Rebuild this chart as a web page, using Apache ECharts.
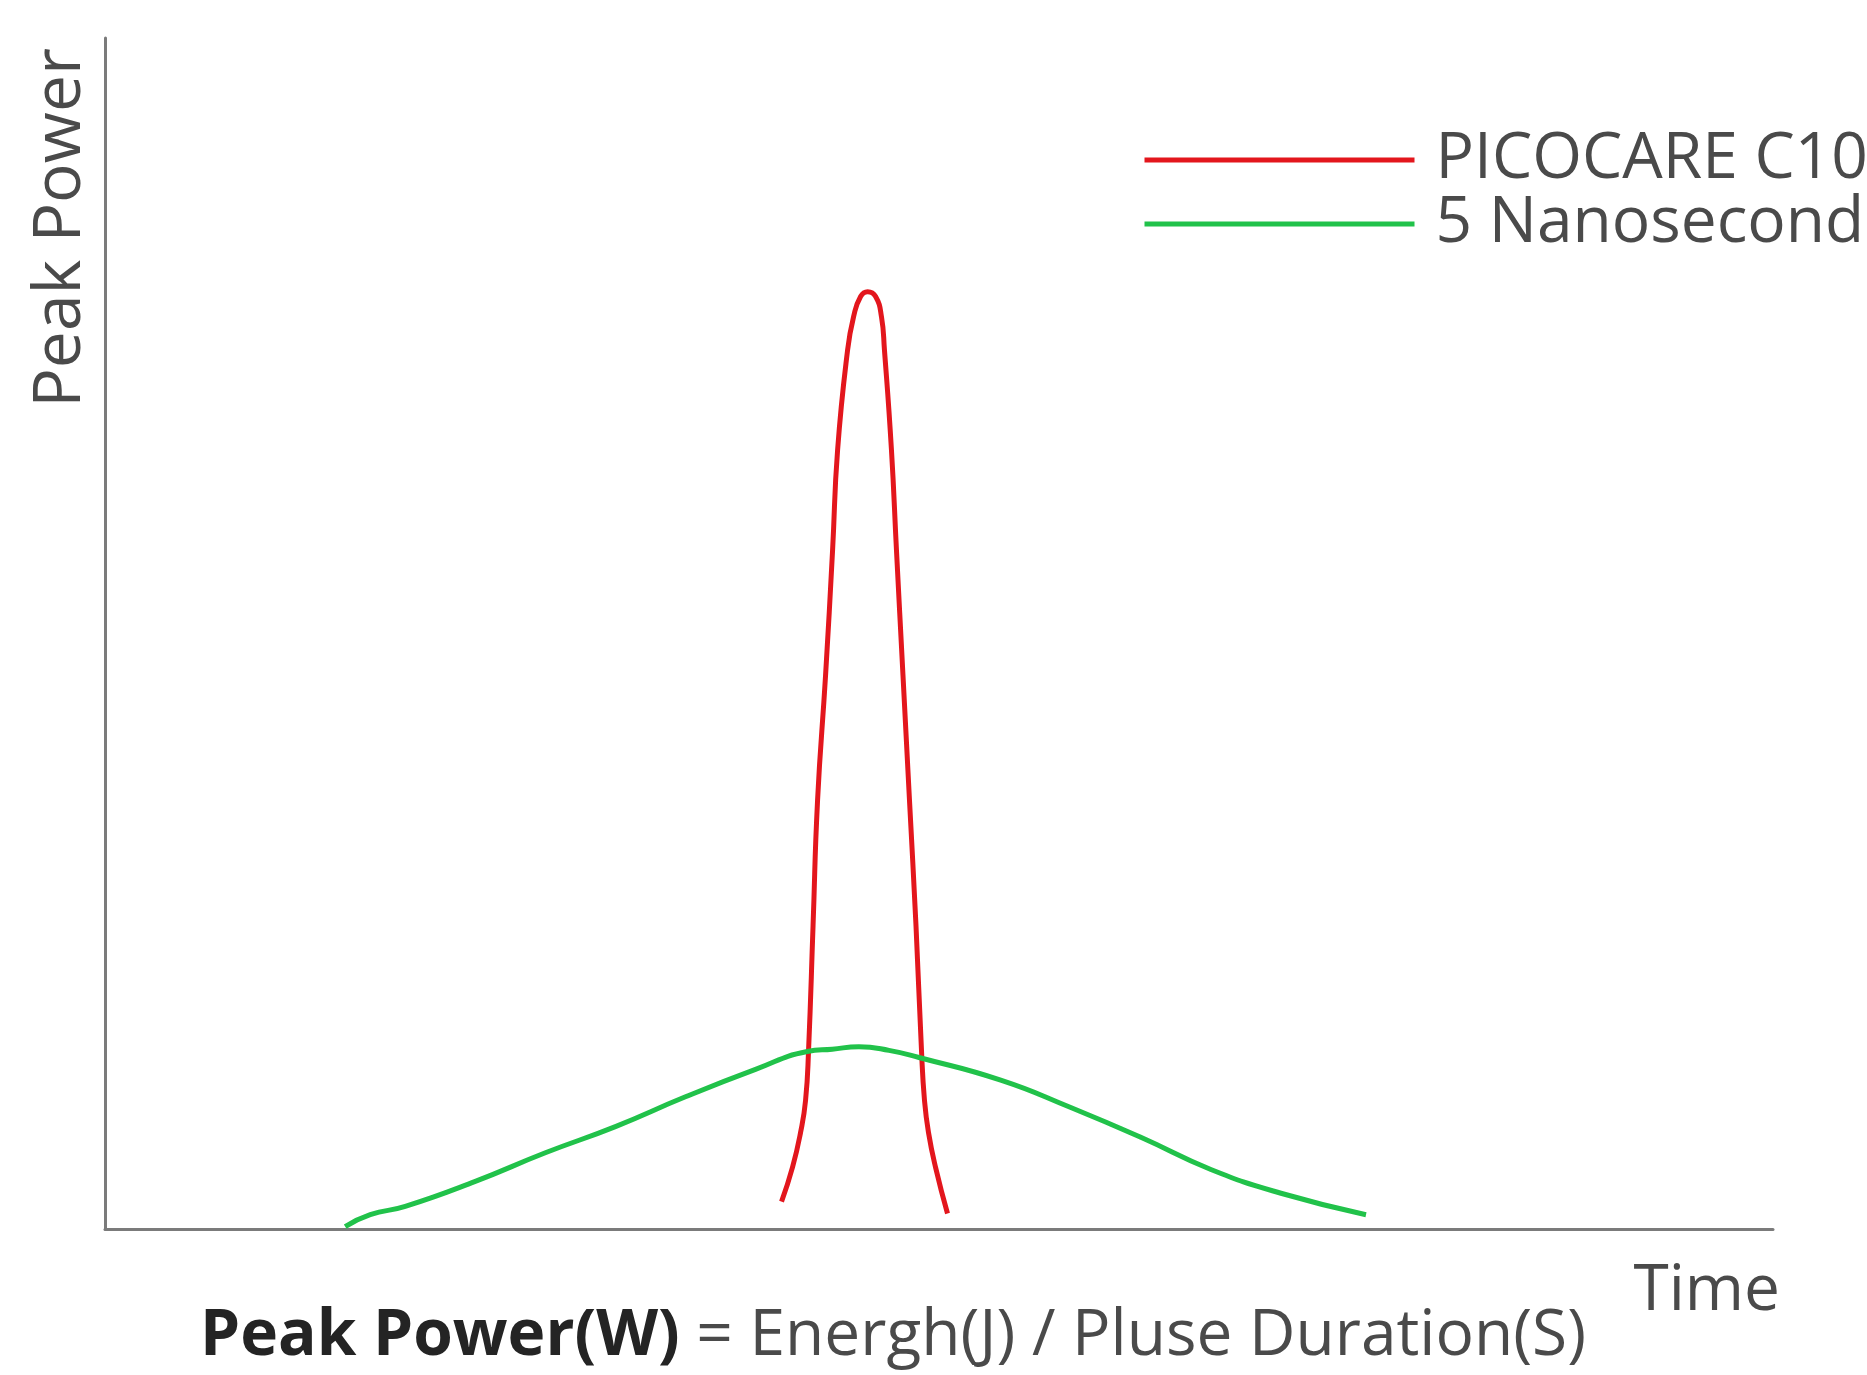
<!DOCTYPE html>
<html>
<head>
<meta charset="utf-8">
<title>Peak Power</title>
<script src="https://cdn.jsdelivr.net/npm/echarts@6/dist/echarts.min.js"></script>
<style>
    html, body { margin: 0; padding: 0; background: #fff; }
    #main { width: 1867px; height: 1375px; }
</style>
</head>
<body>
<div id="main"></div>
<script>
// 数据（横轴 0-100 为时间，纵轴 0-100 为峰值功率，均为相对值）
var seriesNames = ['PICOCARE C10', '5 Nanosecond'];

var picoTime  = [40.56, 41.22, 41.70, 42.00, 42.18, 42.45, 42.72, 43.20, 43.62, 43.92, 44.52, 44.88, 45.30, 45.72,
                 46.20, 46.55, 46.73, 47.15, 47.45, 47.84, 48.23, 48.62, 48.95, 49.13, 49.37, 49.79, 50.51];
var picoPower = [2.3, 5.2, 8.1, 10.8, 15.0, 25.5, 36.0, 46.5, 57.0, 65.4, 73.8, 76.6, 78.3, 78.7,
                 78.3, 76.6, 73.8, 65.4, 57.0, 46.5, 36.0, 25.5, 15.0, 10.8, 8.1, 5.2, 1.3];

var nanoTime  = [14.4, 15.9, 18.0, 22.2, 26.4, 30.6, 34.8, 39.0, 42.1, 43.6, 45.2, 47.0, 48.8, 53.7, 57.9, 62.1, 66.3, 70.5, 75.6];
var nanoPower = [0.2, 1.2, 1.9, 4.0, 6.4, 8.6, 11.1, 13.4, 14.9, 15.1, 15.3, 15.0, 14.4, 12.5, 10.2, 7.7, 5.0, 3.0, 1.2];

function pairs(xs, ys) {
    return xs.map(function (x, i) {
        return [x, ys[i]];
    });
}

var font = 'Open Sans';
var myChart = echarts.init(document.getElementById('main'));

myChart.setOption({
    backgroundColor: '#fff',
    animation: false,
    title: {
        left: 200,
        top: 1305,
        padding: 0,
        text: '{b|Peak Power(W)}{r| = Energh(J) / Pluse Duration(S)}',
        textStyle: {
            fontWeight: 'normal',
            rich: {
                b: { fontFamily: font, fontSize: 64, fontWeight: 'bold', color: '#242424' },
                r: { fontFamily: font, fontSize: 64, fontWeight: 'normal', color: '#4a4a4a' }
            }
        }
    },
    legend: {
        orient: 'vertical',
        left: 1142,
        top: 128,
        padding: 0,
        itemGap: 0,
        itemWidth: 270,
        itemHeight: 30,
        selectedMode: false,
        itemStyle: { opacity: 0 },
        lineStyle: { width: 5 },
        textStyle: {
            fontFamily: font,
            fontSize: 64,
            color: '#4a4a4a',
            padding: [0, 0, 0, 16]
        },
        data: seriesNames
    },
    grid: {
        left: 105,
        right: 94,
        top: 38,
        bottom: 146
    },
    xAxis: {
        type: 'value',
        min: 0,
        max: 100,
        name: 'Time',
        nameLocation: 'end',
        nameGap: 7,
        nameTextStyle: {
            fontFamily: font,
            fontSize: 64,
            color: '#4a4a4a',
            align: 'right',
            verticalAlign: 'top',
            padding: [31, 0, 0, 0]
        },
        axisLine: { lineStyle: { color: '#7b7b7b', width: 3 } },
        axisTick: { show: false },
        axisLabel: { show: false },
        splitLine: { show: false }
    },
    yAxis: {
        type: 'value',
        min: 0,
        max: 100,
        name: 'Peak Power',
        nameLocation: 'end',
        nameRotate: 90,
        nameGap: -10,
        nameTextStyle: {
            fontFamily: font,
            fontSize: 66,
            color: '#4a4a4a',
            align: 'right',
            verticalAlign: 'bottom',
            padding: [0, 0, 11, 0]
        },
        axisLine: { show: true, lineStyle: { color: '#7b7b7b', width: 3 } },
        axisTick: { show: false },
        axisLabel: { show: false },
        splitLine: { show: false }
    },
    series: [
        {
            name: seriesNames[0],
            type: 'line',
            smooth: 0.5,
            symbol: 'none',
            lineStyle: { color: '#e3161d', width: 5 },
            itemStyle: { color: '#e3161d' },
            data: pairs(picoTime, picoPower)
        },
        {
            name: seriesNames[1],
            type: 'line',
            smooth: 0.5,
            symbol: 'none',
            lineStyle: { color: '#21c24a', width: 5 },
            itemStyle: { color: '#21c24a' },
            data: pairs(nanoTime, nanoPower)
        }
    ]
});
</script>
</body>
</html>
